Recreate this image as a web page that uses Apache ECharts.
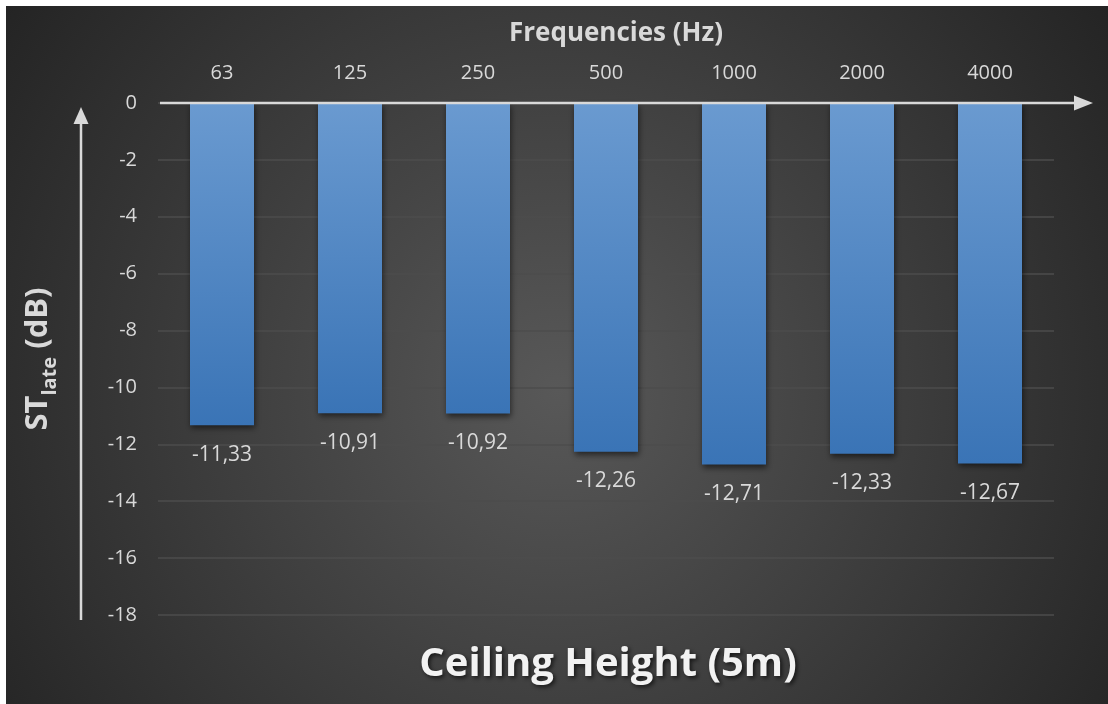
<!DOCTYPE html>
<html>
<head>
<meta charset="utf-8">
<script src="https://cdn.jsdelivr.net/npm/echarts@6/dist/echarts.min.js"></script>
<style>
  html, body { margin: 0; padding: 0; background: #ffffff; }
  #chart { position: absolute; left: 6px; top: 6px; width: 1102px; height: 698px; }
</style>
</head>
<body>
<div id="chart"></div>
<script>
// Octave-band centre frequencies and the measured ST_late values (dB)
const frequencies = ['63', '125', '250', '500', '1000', '2000', '4000'];
const stLate = [-11.33, -10.91, -10.92, -12.26, -12.71, -12.33, -12.67];
const yTicks = { min: -18, max: 0, step: 2 };

const FONT = '"Open Sans", "Noto Sans", sans-serif';
const TEXT = '#d9d9d9';

const chart = echarts.init(document.getElementById('chart'), null, { renderer: 'canvas' });

const option = {
  backgroundColor: {
    type: 'radial', x: 0.5, y: 0.55, r: 1.0,
    colorStops: [
      { offset: 0, color: '#585858' },
      { offset: 1, color: '#222222' }
    ]
  },
  textStyle: { fontFamily: FONT },
  title: [
    {
      text: 'Frequencies (Hz)',
      left: 605, top: 10, textAlign: 'center',
      textStyle: { color: TEXT, fontSize: 26, fontWeight: 'bold', fontFamily: FONT }
    },
    {
      text: 'Ceiling Height (5m)',
      left: 597, top: 634, textAlign: 'center',
      textStyle: {
        color: '#f2f2f2', fontSize: 40, fontWeight: 'bold', fontFamily: FONT,
        textShadowColor: 'rgba(0,0,0,0.65)', textShadowBlur: 4,
        textShadowOffsetX: 2, textShadowOffsetY: 2
      }
    }
  ],
  grid: { left: 152, right: 54, top: 97, bottom: 89, containLabel: false },
  xAxis: {
    type: 'category',
    position: 'top',
    data: frequencies,
    axisLine: { show: false },
    axisTick: { show: false },
    axisLabel: { color: TEXT, fontSize: 20, margin: 20, fontFamily: FONT },
    splitLine: { show: false }
  },
  yAxis: {
    type: 'value',
    min: yTicks.min, max: yTicks.max, interval: yTicks.step,
    name: '{b|ST}{s|late}{b| (dB)}',
    nameLocation: 'middle',
    nameRotate: 90,
    nameGap: 104,
    nameTextStyle: {
      rich: {
        b: { color: TEXT, fontSize: 31, fontWeight: 'bold', fontFamily: FONT, verticalAlign: 'bottom', lineHeight: 36 },
        s: { color: TEXT, fontSize: 20, fontWeight: 'bold', fontFamily: FONT, verticalAlign: 'bottom', lineHeight: 28, padding: [0, 0, -6, 0] }
      }
    },
    axisLine: { show: false },
    axisTick: { show: false },
    axisLabel: { color: TEXT, fontSize: 20, margin: 21, fontFamily: FONT },
    splitLine: { show: true, lineStyle: { color: '#4d4d4d', width: 1.5 } }
  },
  series: [{
    type: 'bar',
    data: stLate,
    barWidth: '50%',
    itemStyle: {
      color: {
        type: 'linear', x: 0, y: 0, x2: 0, y2: 1,
        colorStops: [
          { offset: 0, color: '#6a9ad0' },
          { offset: 1, color: '#3a74b6' }
        ]
      },
      shadowColor: 'rgba(0,0,0,0.55)',
      shadowBlur: 6,
      shadowOffsetX: 1,
      shadowOffsetY: 3
    },
    label: {
      show: true,
      position: 'bottom',
      distance: 19,
      color: TEXT,
      fontSize: 21,
      fontFamily: FONT,
      formatter: p => p.value.toFixed(2).replace('.', ',')
    }
  }]
};

chart.setOption(option);

// Arrowed axes: horizontal arrow along the zero line, vertical arrow at the left
const zeroY = chart.convertToPixel({ yAxisIndex: 0 }, 0);
const bottomY = chart.convertToPixel({ yAxisIndex: 0 }, yTicks.min);
const gridLeft = chart.convertToPixel({ xAxisIndex: 0 }, frequencies[0]) - 64;
const AX = '#d9d9d9';
const vx = 75;

chart.setOption({
  graphic: [
    {
      type: 'line', z: 10,
      shape: { x1: gridLeft + 2, y1: zeroY, x2: 1072, y2: zeroY },
      style: { stroke: AX, lineWidth: 2.5 }
    },
    {
      type: 'polygon', z: 10,
      shape: { points: [[1068, zeroY - 7.5], [1087, zeroY], [1068, zeroY + 7.5]] },
      style: { fill: AX }
    },
    {
      type: 'line', z: 10,
      shape: { x1: vx, y1: bottomY + 5, x2: vx, y2: zeroY + 20 },
      style: { stroke: AX, lineWidth: 2.5 }
    },
    {
      type: 'polygon', z: 10,
      shape: { points: [[vx - 7.5, zeroY + 21], [vx, zeroY + 4], [vx + 7.5, zeroY + 21]] },
      style: { fill: AX }
    }
  ]
});
</script>
</body>
</html>
